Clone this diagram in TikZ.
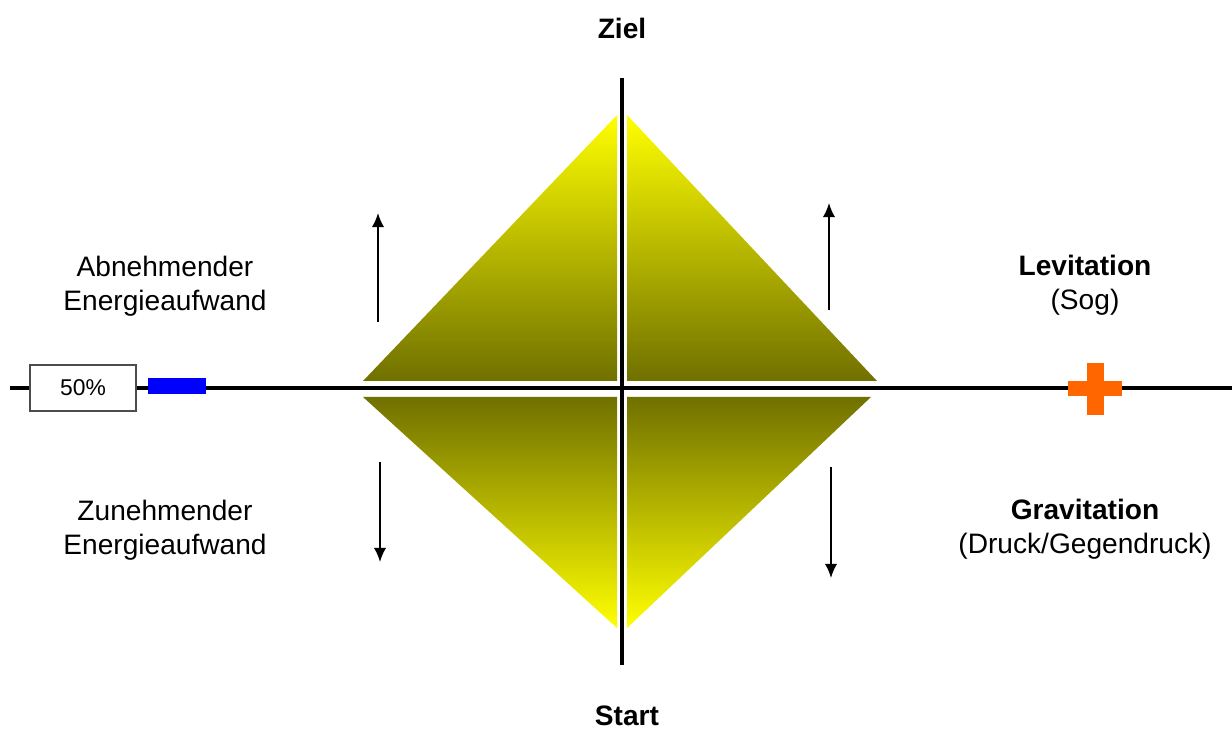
\documentclass[tikz,border=0pt]{standalone}
\usepackage{fontspec}
\setmainfont{Liberation Sans}
\usetikzlibrary{arrows.meta,positioning,calc}
\definecolor{darkolive}{RGB}{112,112,0}
\definecolor{plusorange}{RGB}{255,102,0}

\begin{document}
\begin{tikzpicture}[x=0.02cm,y=-0.02cm,
  txt/.style={font=\fontsize{16}{19.3}\selectfont,align=center,inner sep=0pt},
  axis/.style={line width=1.8pt},
  trend/.style={-{Latex[length=8pt,width=7pt]},line width=1.1pt},
  upper/.style={top color=yellow,bottom color=darkolive},
  lower/.style={top color=darkolive,bottom color=yellow}]
\useasboundingbox (0,0) rectangle (1232,729);
% triangles
\path[upper] (363,381) -- (617,115) -- (617,381) -- cycle;
\path[upper] (627,381) -- (627,115) -- (877,381) -- cycle;
\path[lower] (363,397) -- (617,397) -- (617,628) -- cycle;
\path[lower] (627,397) -- (871,397) -- (627,628) -- cycle;
% axes
\coordinate (axL) at (10,388);
\coordinate (axR) at (1232,388);
\coordinate (axT) at (622,78);
\coordinate (axB) at (622,665);
\draw[axis] (axL) -- (axR);
\draw[axis] (axT) -- (axB);
% labels
\node[txt,font=\fontsize{16}{19.3}\selectfont\bfseries] (ziel) at (622,28) {Ziel};
\node[txt,font=\fontsize{16}{19.3}\selectfont\bfseries] (start) at (627,716) {Start};
\node[txt] (abn) at (165,286) {Abnehmender\\Energieaufwand};
\node[txt] (zun) at (165,530) {Zunehmender\\Energieaufwand};
\node[txt] (lev) at (1085,285) {{\bfseries Levitation}\\(Sog)};
\node[txt] (grav) at (1085,529) {{\bfseries Gravitation}\\(Druck/Gegendruck)};
% markers
\node[txt,font=\fontsize{13}{15}\selectfont,draw=black!70,line width=0.8pt,fill=white,
  minimum width=2.12cm,minimum height=0.92cm] (pct) at (83,388) {50\%};
\node[fill=blue,inner sep=0pt,minimum width=1.16cm,minimum height=0.32cm] (blue) at (177,386) {};
\node[fill=plusorange,inner sep=0pt,minimum width=1.08cm,minimum height=0.30cm] (plush) at (1095,389) {};
\node[fill=plusorange,inner sep=0pt,minimum width=0.34cm,minimum height=1.06cm] (plusv) at (1095,389) {};
% arrows
\coordinate (a1) at (378,322); \coordinate (b1) at (378,213);
\coordinate (a2) at (829,310); \coordinate (b2) at (829,203);
\coordinate (a3) at (380,462); \coordinate (b3) at (380,562);
\coordinate (a4) at (831,467); \coordinate (b4) at (831,578);
\path[trend]
(a1) edge (b1)
(a2) edge (b2)
(a3) edge (b3)
(a4) edge (b4)
;
\end{tikzpicture}
\end{document}
